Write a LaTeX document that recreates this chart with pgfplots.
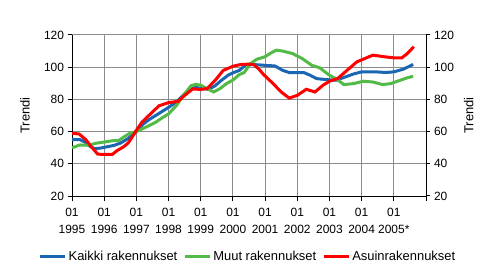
\documentclass[border=0pt]{standalone}
\usepackage{fontspec}
\setmainfont{Liberation Sans}
\usepackage{pgfplots}
\pgfplotsset{compat=1.18}
\definecolor{cblue}{RGB}{26,102,178}
\definecolor{cgreen}{RGB}{82,186,71}
\definecolor{cred}{RGB}{255,0,0}
\definecolor{cgrid}{RGB}{140,140,140}
\begin{document}
\begin{tikzpicture}
\path[use as bounding box] (0,0) rectangle (497bp,270bp);
\begin{axis}[
  at={(72bp,74bp)}, anchor=south west, scale only axis,
  width=354bp, height=161bp,
  xmin=1995, xmax=2006, ymin=20, ymax=120,
  xtick={1995,1996,1997,1998,1999,2000,2001,2002,2003,2004,2005,2006},
  xticklabels={{01\\1995},{01\\1996},{01\\1997},{01\\1998},{01\\1999},{01\\2000},{01\\2001},{01\\2002},{01\\2003},{01\\2004},{01\\2005*},{}},
  xticklabel style={align=center, font=\fontsize{12}{17}\selectfont, yshift=-4bp},
  ytick={20,40,60,80,100,120},
  yticklabel style={font=\fontsize{12}{14}\selectfont},
  /pgf/number format/assume math mode=true,
  axis x line*=bottom, axis y line*=left,
  axis line style={-, line width=1bp, black},
  tick align=outside, major tick length=4.5bp,
  tick style={black, line width=1bp},
  grid=major, major grid style={cgrid, line width=1bp},
  ylabel={Trendi},
  every axis y label/.style={at={(axis description cs:-0.133,0.5)}, rotate=90, anchor=center, font=\fontsize{13}{15}\selectfont},
  legend columns=3,
  legend style={at={(0.497,-0.378)}, anchor=center, draw=none, fill=none,
    font=\fontsize{13}{15}\selectfont,
    /tikz/every even column/.append style={column sep=4bp}},
  legend image code/.code={\draw[#1, line width=3bp] (0bp,0bp) -- (25bp,0bp);},
  every axis plot/.append style={line width=3bp, no markers, sharp plot},
]
\addplot[cblue] coordinates {
(1995.00,55.0) (1995.25,55.0) (1995.40,53.5) (1995.55,51.0) (1995.70,49.4)
(1995.90,49.8) (1996.10,50.6) (1996.30,51.4) (1996.50,52.8) (1996.75,55.8)
(1997.00,60.0) (1997.20,64.5) (1997.40,67.5) (1997.60,70.0) (1997.80,72.5)
(1998.00,75.0) (1998.25,78.5) (1998.45,82.5) (1998.65,86.0) (1998.85,87.5)
(1999.00,86.8) (1999.25,86.3) (1999.45,88.5) (1999.65,92.0) (1999.85,95.0)
(2000.00,96.5) (2000.20,98.0) (2000.40,101.5) (2000.60,101.7) (2000.90,101.3)
(2001.10,101.0) (2001.30,100.8) (2001.55,98.0) (2001.75,96.7) (2002.00,96.7)
(2002.20,96.7) (2002.40,95.0) (2002.60,92.9) (2002.90,92.3) (2003.20,91.9)
(2003.50,94.0) (2003.75,95.8) (2004.00,97.1) (2004.45,97.1) (2004.75,96.7)
(2005.00,97.1) (2005.30,98.8) (2005.60,101.7)
};
\addlegendentry{Kaikki rakennukset}
\addplot[cgreen] coordinates {
(1995.00,50.0) (1995.25,51.7) (1995.50,51.5) (1995.75,52.8) (1996.00,53.5)
(1996.25,54.3) (1996.45,54.5) (1996.60,56.5) (1996.80,59.0) (1997.00,60.0)
(1997.30,62.8) (1997.60,65.8) (1997.80,68.5) (1998.00,71.0) (1998.25,76.3)
(1998.50,83.5) (1998.70,88.5) (1998.85,89.4) (1999.00,88.8) (1999.20,86.7)
(1999.40,84.6) (1999.60,86.7) (1999.80,89.8) (2000.00,92.0) (2000.20,95.4)
(2000.35,96.7) (2000.55,102.3) (2000.75,105.0) (2001.00,106.5) (2001.15,108.5)
(2001.35,110.6) (2001.55,110.0) (2001.85,108.5) (2002.15,105.4) (2002.45,101.2)
(2002.70,99.6) (2003.00,95.0) (2003.20,92.9) (2003.45,89.2) (2003.75,89.8)
(2004.05,91.3) (2004.35,90.8) (2004.65,89.2) (2004.90,89.8) (2005.20,91.9)
(2005.40,93.3) (2005.60,94.4)
};
\addlegendentry{Muut rakennukset}
\addplot[cred] coordinates {
(1995.00,59.0) (1995.22,58.5) (1995.42,55.2) (1995.60,50.6) (1995.80,46.0)
(1996.00,45.8) (1996.25,45.8) (1996.40,48.2) (1996.60,50.5) (1996.75,53.0)
(1996.85,56.0) (1997.00,60.8) (1997.18,66.0) (1997.42,70.6) (1997.70,76.0)
(1998.00,78.0) (1998.30,78.8) (1998.50,82.5) (1998.75,86.5) (1999.00,86.2)
(1999.20,86.7) (1999.45,91.9) (1999.70,98.0) (2000.00,100.6) (2000.25,101.7)
(2000.50,101.9) (2000.65,101.5) (2000.80,99.0) (2000.95,95.5) (2001.25,89.8)
(2001.50,84.6) (2001.75,80.8) (2002.00,82.5) (2002.28,86.3) (2002.55,84.6)
(2002.80,88.8) (2003.00,91.3) (2003.25,92.9) (2003.55,98.1) (2003.85,103.3)
(2004.10,105.4) (2004.35,107.5) (2004.70,106.5) (2005.00,105.8) (2005.25,105.8)
(2005.42,108.5) (2005.62,112.7)
};
\addlegendentry{Asuinrakennukset}
\end{axis}
\begin{axis}[
  at={(72bp,74bp)}, anchor=south west, scale only axis,
  width=354bp, height=161bp,
  xmin=1995, xmax=2006, ymin=20, ymax=120,
  axis x line=none, axis y line*=right,
  axis line style={-, line width=1bp, black},
  ytick={20,40,60,80,100,120},
  yticklabel style={font=\fontsize{12}{14}\selectfont},
  /pgf/number format/assume math mode=true,
  tick align=outside, major tick length=4.5bp,
  tick style={black, line width=1bp},
  ylabel={Trendi},
  every axis y label/.style={at={(axis description cs:1.121,0.5)}, rotate=90, anchor=center, font=\fontsize{13}{15}\selectfont},
]
\end{axis}
\end{tikzpicture}
\end{document}
